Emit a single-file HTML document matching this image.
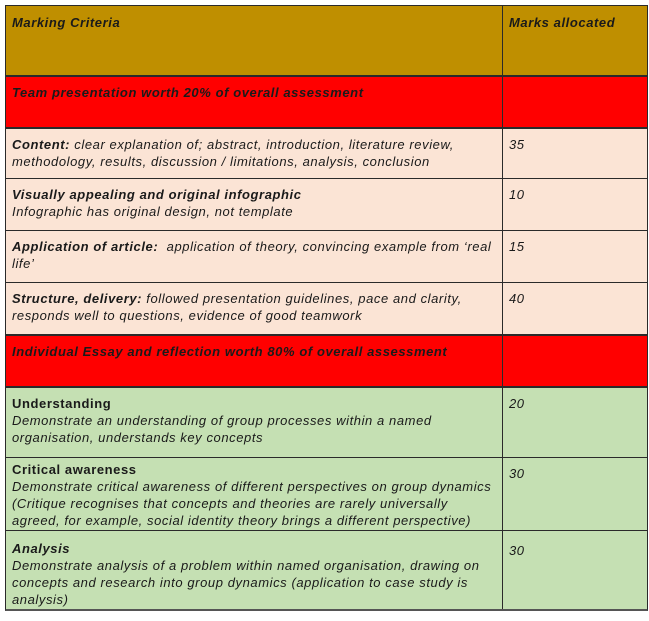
<!DOCTYPE html>
<html><head><style>
body{margin:0;width:649px;height:621px;background:#fff;font-family:"Liberation Sans",sans-serif;font-size:13px;line-height:17px;letter-spacing:0.58px;color:#1a1a1a;position:relative;overflow:hidden}
.r{position:absolute;left:5px;width:643px;box-sizing:border-box;border:1px solid #2a2a2a;border-bottom:none}
.c1,.c2{position:absolute;top:0;bottom:0;box-sizing:border-box;padding:7px 6px}
.c1{left:0;width:497px;border-right:1px solid #2a2a2a}
.c2{left:497px;right:0}
i{font-style:italic}
b{font-weight:bold}
</style></head><body>
<div class="r" style="top:5px;height:70px;background:#bf8f00;border-width:1.5px"><div class="c1" style="padding-top:8px"><b><i>Marking Criteria</i></b></div><div class="c2" style="padding-top:8px"><b><i>Marks allocated</i></b></div></div>
<div class="r" style="top:75px;height:52px;background:#ff0000;border-top:2px solid #2a2a2a"><div class="c1" style="padding-top:7px"><b><i>Team presentation worth 20% of overall assessment</i></b></div><div class="c2"></div></div>
<div class="r" style="top:127px;height:51px;background:#fbe4d5;border-top:2px solid #2a2a2a"><div class="c1"><b><i>Content:</i></b> <i>clear explanation of; abstract, introduction, literature review,<br>methodology, results, discussion / limitations, analysis, conclusion</i></div><div class="c2"><i>35</i></div></div>
<div class="r" style="top:178px;height:52px;background:#fbe4d5"><div class="c1"><b><i>Visually appealing and original infographic</i></b><br><i>Infographic has original design, not template</i></div><div class="c2"><i>10</i></div></div>
<div class="r" style="top:230px;height:52px;background:#fbe4d5"><div class="c1"><b><i>Application of article:</i></b>&nbsp; <i>application of theory, convincing example from ‘real<br>life’</i></div><div class="c2"><i>15</i></div></div>
<div class="r" style="top:282px;height:52px;background:#fbe4d5"><div class="c1"><b><i>Structure, delivery:</i></b> <i>followed presentation guidelines, pace and clarity,<br>responds well to questions, evidence of good teamwork</i></div><div class="c2"><i>40</i></div></div>
<div class="r" style="top:334px;height:52px;background:#ff0000;border-top:2px solid #2a2a2a"><div class="c1"><b><i>Individual Essay and reflection worth 80% of overall assessment</i></b></div><div class="c2"></div></div>
<div class="r" style="top:386px;height:71px;background:#c5e0b3;border-top:2px solid #2a2a2a"><div class="c1"><b>Understanding</b><br><i>Demonstrate an understanding of group processes within a named<br>organisation, understands key concepts</i></div><div class="c2"><i>20</i></div></div>
<div class="r" style="top:457px;height:73px;background:#c5e0b3"><div class="c1" style="padding-top:3px"><b>Critical awareness</b><br><i>Demonstrate critical awareness of different perspectives on group dynamics<br>(Critique recognises that concepts and theories are rarely universally<br>agreed, for example, social identity theory brings a different perspective)</i></div><div class="c2"><i>30</i></div></div>
<div class="r" style="top:530px;height:81px;background:#c5e0b3;border-bottom:2px solid #555"><div class="c1" style="padding-top:9px"><b><i>Analysis</i></b><br><i>Demonstrate analysis of a problem within named organisation, drawing on<br>concepts and research into group dynamics (application to case study is<br>analysis)</i></div><div class="c2" style="padding-top:11px"><i>30</i></div></div>
</body></html>
